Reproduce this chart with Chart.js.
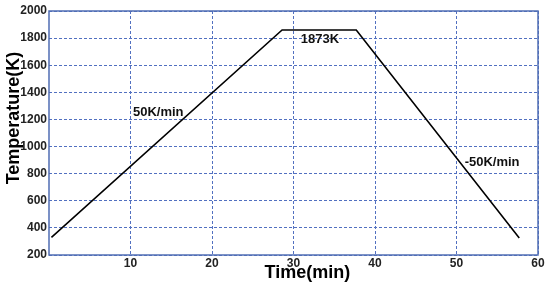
<!DOCTYPE html>
<html lang="en">
<head>
<meta charset="utf-8">
<title>Temperature profile</title>
<script src="https://cdn.jsdelivr.net/npm/chart.js@4/dist/chart.umd.min.js"></script>
<style>
  body { margin: 0; background: #fff; }
  canvas { display: block; }
</style>
</head>
<body>
<canvas id="tempChart" width="550" height="289"></canvas>
<script>
// values
const timeMin = [0.3, 28.6, 37.7, 57.7];
const tempK = [330, 1860, 1860, 325];
const xTicks = [10, 20, 30, 40, 50, 60];
const yTicks = [200, 400, 600, 800, 1000, 1200, 1400, 1600, 1800, 2000];
// labels placed at data coordinates [time, temp]
const notes = [
  { text: '50K/min', t: 10.3, k: 1250 },
  { text: '1873K', t: 30.9, k: 1790 },
  { text: '-50K/min', t: 51.0, k: 880 }
];

const gridColor = 'rgb(82,112,192)';
const tickFont = { family: 'Liberation Sans, Arial, sans-serif', size: 12, weight: 'bold' };

const extras = {
  id: 'extras',
  afterDraw(chart) {
    const { ctx, chartArea: a, scales } = chart;
    ctx.save();
    // plot frame
    ctx.strokeStyle = 'rgb(80,110,180)';
    ctx.lineWidth = 1.5;
    ctx.strokeRect(a.left, a.top, a.right - a.left, a.bottom - a.top);
    // in-plot labels
    ctx.fillStyle = '#111';
    ctx.font = 'bold 13px Liberation Sans, Arial, sans-serif';
    ctx.textBaseline = 'middle';
    ctx.textAlign = 'left';
    for (const n of notes) {
      ctx.fillText(n.text, scales.x.getPixelForValue(n.t), scales.y.getPixelForValue(n.k));
    }
    // axis titles
    ctx.fillStyle = '#000';
    ctx.font = 'bold 18px Liberation Sans, Arial, sans-serif';
    ctx.textAlign = 'center';
    ctx.fillText('Time(min)', scales.x.getPixelForValue(31.7), a.bottom + 18);
    ctx.translate(14, a.top + 107);
    ctx.rotate(-Math.PI / 2);
    ctx.fillText('Temperature(K)', 0, 0);
    ctx.restore();
  }
};

new Chart(document.getElementById('tempChart'), {
  type: 'line',
  data: {
    datasets: [{
      data: timeMin.map((t, i) => ({ x: t, y: tempK[i] })),
      borderColor: '#000',
      borderWidth: 1.6,
      pointRadius: 0,
      tension: 0,
      fill: false
    }]
  },
  options: {
    responsive: false,
    animation: false,
    layout: { padding: { top: 11, right: 12, left: 0, bottom: 0 } },
    plugins: { legend: { display: false }, tooltip: { enabled: false } },
    scales: {
      x: {
        type: 'linear',
        min: 0,
        max: 60,
        afterBuildTicks: s => { s.ticks = xTicks.map(v => ({ value: v })); },
        afterFit: s => { s.height = 34; },
        ticks: { color: '#222', font: tickFont, padding: 1, maxRotation: 0, callback: v => String(v) },
        grid: { color: gridColor, lineWidth: 1, drawTicks: false },
        border: { display: false, dash: [3, 2] }
      },
      y: {
        min: 200,
        max: 2000,
        afterBuildTicks: s => { s.ticks = yTicks.map(v => ({ value: v })); },
        afterFit: s => { s.width = 49; },
        ticks: { color: '#222', font: tickFont, padding: 2, callback: v => String(v) },
        grid: { color: gridColor, lineWidth: 1, drawTicks: false },
        border: { display: false, dash: [3, 2] }
      }
    }
  },
  plugins: [extras]
});
</script>
</body>
</html>
